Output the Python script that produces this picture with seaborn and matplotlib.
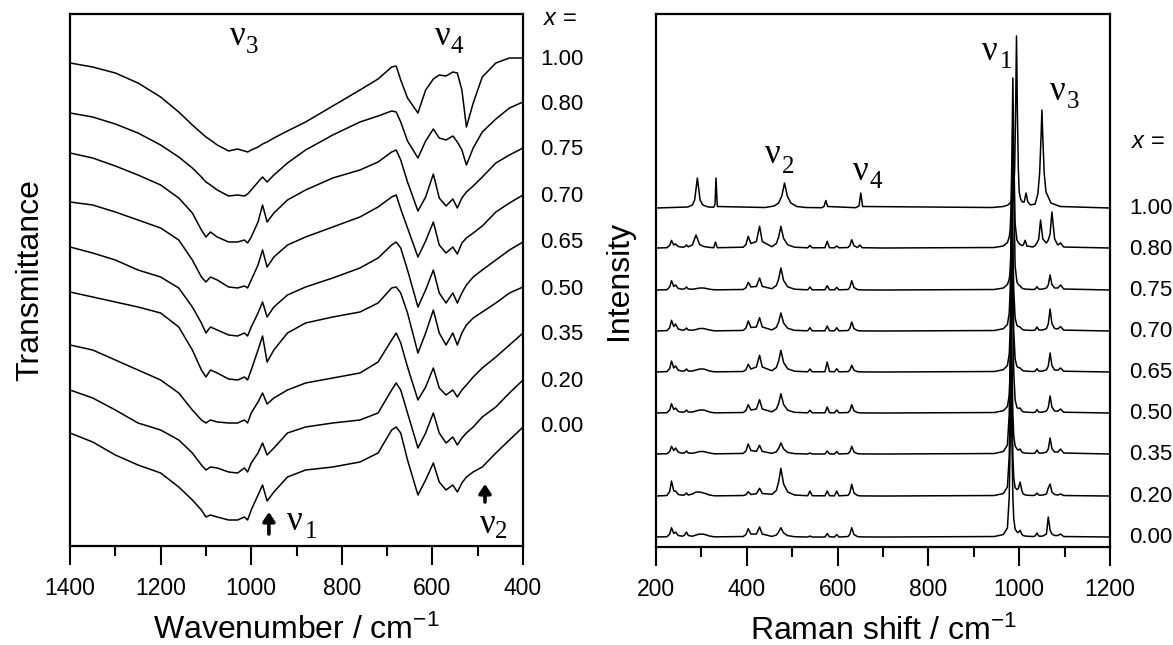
import numpy as np
import pandas as pd
import matplotlib
matplotlib.use("Agg")
import matplotlib.pyplot as plt
from matplotlib.ticker import MultipleLocator
import seaborn as sns

compositions = ["1.00", "0.80", "0.75", "0.70", "0.65", "0.50", "0.35", "0.20", "0.00"]

# FTIR transmittance (arb. units, offsets included)
ir_wavenumber = [1400, 1350, 1300, 1250, 1200, 1160, 1130, 1110, 1100, 1090,
                 1075, 1050, 1030, 1015, 1008, 1000, 985, 975, 965, 950,
                 920, 880, 820, 760, 720, 690, 680, 670, 655, 632,
                 615, 598, 585, 570, 555, 545, 535, 525, 510, 490,
                 460, 430, 400]
ir_100 = [483, 479, 473, 463, 449, 434, 421, 413, 409, 406, 401, 395, 397, 395, 394,
          396, 399, 402, 404, 408, 415, 424, 440, 456, 467, 479, 480, 466, 448, 433,
          456, 467, 471, 470, 474, 473, 456, 419, 443, 469, 483, 488, 488]
ir_080 = [433, 429, 422, 413, 401, 389, 378, 369, 364, 361, 356, 350, 351, 350, 352,
          356, 364, 369, 364, 371, 383, 396, 411, 424, 430, 435, 434, 424, 405, 388,
          405, 417, 408, 406, 410, 404, 396, 381, 398, 414, 427, 438, 444]
ir_075 = [393, 388, 380, 371, 361, 348, 333, 316, 309, 314, 309, 304, 304, 306, 303,
          309, 324, 341, 324, 333, 346, 356, 368, 376, 384, 394, 396, 386, 364, 335,
          349, 372, 348, 340, 347, 338, 348, 354, 360, 369, 383, 391, 398]
ir_070 = [344, 341, 334, 326, 318, 306, 286, 269, 264, 269, 266, 259, 258, 260, 258,
          266, 281, 296, 279, 289, 301, 309, 319, 329, 339, 349, 351, 337, 318, 289,
          305, 324, 301, 293, 299, 292, 303, 308, 313, 320, 334, 343, 351]
ir_065 = [299, 293, 286, 276, 269, 258, 239, 223, 213, 219, 216, 211, 210, 213, 210,
          219, 233, 244, 229, 239, 251, 259, 268, 278, 288, 301, 304, 298, 276, 239,
          256, 276, 253, 243, 253, 243, 253, 261, 269, 276, 286, 296, 304]
ir_050 = [254, 249, 244, 239, 233, 219, 196, 176, 169, 176, 173, 167, 166, 169, 166,
          176, 196, 210, 184, 196, 213, 223, 229, 234, 243, 258, 259, 253, 233, 193,
          213, 236, 213, 201, 213, 201, 213, 221, 228, 234, 243, 253, 259]
ir_035 = [201, 196, 186, 176, 166, 153, 136, 126, 123, 126, 124, 123, 123, 126, 123,
          133, 144, 153, 142, 148, 156, 163, 168, 173, 184, 206, 213, 203, 179, 146,
          159, 178, 158, 151, 156, 149, 156, 161, 169, 178, 189, 201, 213]
ir_020 = [156, 148, 136, 123, 116, 106, 93, 81, 76, 79, 78, 74, 73, 78, 74,
          83, 93, 103, 91, 98, 113, 119, 123, 126, 133, 156, 163, 156, 133, 98,
          113, 133, 113, 103, 109, 101, 108, 113, 119, 129, 139, 153, 166]
ir_000 = [113, 104, 91, 81, 73, 59, 46, 36, 29, 31, 29, 26, 26, 29, 26,
          36, 51, 61, 45, 54, 69, 76, 79, 84, 93, 116, 119, 113, 86, 51,
          66, 83, 64, 56, 61, 54, 63, 69, 74, 79, 93, 106, 119]
ir_curves = [ir_100, ir_080, ir_075, ir_070, ir_065, ir_050, ir_035, ir_020, ir_000]

# Raman, intensity above each trace's own baseline (arb. units)
raman_shift = [200, 224, 230, 234, 239, 243, 249, 258, 263, 267,
               271, 280, 288, 296, 305, 318, 327, 331, 335, 392,
               398, 403, 409, 421, 428, 434, 455, 465, 470, 475,
               481, 490, 505, 534, 539, 544, 572, 577, 582, 593,
               598, 603, 623, 627, 631, 636, 644, 649, 654, 700,
               945, 965, 974, 978, 980, 982, 984, 986, 988, 991,
               995, 998, 1002, 1006, 1009, 1013, 1017, 1030, 1035, 1039,
               1043, 1047, 1052, 1060, 1064, 1068, 1072, 1078, 1085, 1091,
               1098, 1200]
raman_000 = [0, 0.3, 3, 9.3, 3.5, 5, 1.5, 0.8, 2, 5,
             1.5, 0.8, 2, 3, 2.8, 1, 0.3, 0.2, 0.2, 0.5,
             2.5, 8.3, 3, 3, 10, 3, 0.6, 2, 5, 9.3,
             4, 1.4, 0.3, 0, 1, 0, 0, 3.5, 0.3, 0,
             2.5, 0, 0.5, 3, 9.3, 2.5, 0.4, 0.2, 0.1, 0,
             0.5, 2.5, 9, 40, 95, 170, 95, 40, 18, 8,
             5, 4.5, 6.7, 2.5, 1.5, 1, 0.8, 0.5, 1, 4,
             1, 0.8, 1, 3, 20, 7, 3, 1.5, 1.5, 3,
             0.5, 0]
raman_020 = [0, 0.5, 4.5, 15, 5, 5, 1.5, 0.8, 1.2, 3,
             1, 2, 4, 4, 3, 1, 0.3, 0.2, 0.2, 0.5,
             1.3, 4.3, 1.5, 2.3, 7.7, 2.5, 1.7, 5.5, 14, 27.7,
             12, 4, 1, 0.3, 5, 0.3, 0.2, 5, 0.3, 0.2,
             5, 0.2, 0.7, 3.5, 11.7, 3, 0.5, 0.2, 0.1, 0,
             0.5, 2.5, 9, 40, 95, 170, 95, 40, 18, 8.5,
             6.5, 7.5, 14, 5, 2, 1.2, 0.8, 0.5, 0.8, 3,
             1, 0.8, 1, 2, 8, 12, 4, 1.5, 1, 2,
             0.5, 0]
raman_035 = [0, 0.3, 2.5, 7.7, 3.5, 6, 1.8, 0.8, 1.2, 3,
             1, 0.8, 1.5, 2.5, 2.5, 1, 0.3, 0.2, 0.2, 0.6,
             3, 10, 3.5, 2.6, 8.7, 2.6, 0.7, 2.2, 5.5, 11,
             5, 1.6, 0.4, 0, 1, 0, 0, 3, 0.2, 0,
             2.5, 0, 0.4, 2.3, 7.7, 2, 0.3, 0.2, 0.1, 0,
             0.5, 2.5, 9, 40, 95, 170, 95, 40, 18, 8,
             5, 4, 5, 2, 1.2, 1, 0.8, 0.6, 1, 4,
             1.2, 0.8, 1, 2, 5, 16, 5.5, 2, 2, 5,
             1, 0]
raman_050 = [0, 0.3, 3, 9.3, 3.5, 5, 1.5, 0.8, 1.2, 3,
             1, 1, 2, 3, 3, 1, 0.3, 0.2, 0.2, 0.5,
             2.5, 8.3, 3, 4, 13.3, 4, 1.2, 4, 9.5, 19.3,
             8.5, 2.8, 0.7, 0.2, 2.7, 0.2, 0.2, 6, 0.3, 0.2,
             3, 0.2, 0.5, 2.5, 8.3, 2.2, 0.4, 0.2, 0.1, 0,
             0.5, 2.3, 6.5, 18, 40, 95, 170, 95, 40, 13,
             5.5, 4.5, 5, 2, 1.2, 1, 0.8, 0.5, 0.8, 3.3,
             1, 0.8, 1, 2, 5.5, 17, 6, 2, 1.8, 4,
             0.8, 0]
raman_065 = [0, 0.4, 3.5, 11, 4, 6, 1.8, 0.8, 1.2, 3,
             1, 1, 2, 3, 3, 1, 0.3, 0.2, 0.2, 0.5,
             2.3, 7.7, 3, 5, 16.7, 5, 1.3, 4.5, 11, 21.7,
             9.5, 3.2, 0.8, 0.2, 3, 0.2, 0.3, 10, 0.5, 0.2,
             3.3, 0.2, 0.4, 2, 6.7, 1.8, 0.3, 0.2, 0.1, 0,
             0.5, 2.3, 6.5, 18, 40, 95, 170, 95, 40, 13,
             5.5, 4.5, 4, 2, 1.2, 1, 0.8, 0.5, 0.8, 3.3,
             1, 0.8, 1, 2.2, 6, 19, 6.5, 2, 1.8, 4,
             0.8, 0]
raman_070 = [0, 0.4, 3.3, 10.7, 4.5, 7, 2, 0.8, 1.2, 3,
             1, 0.8, 1.5, 2.5, 2.5, 1, 0.3, 0.2, 0.2, 0.6,
             3, 10, 3.5, 4, 13.3, 4, 1.1, 3.6, 9, 18,
             8, 2.7, 0.7, 0.2, 3.3, 0.2, 0.2, 5, 0.3, 0.2,
             3.3, 0.2, 0.5, 2.7, 9, 2.4, 0.4, 0.2, 0.1, 0,
             0.5, 2.3, 6.5, 18, 40, 95, 170, 95, 40, 13,
             5.5, 4.5, 4, 2, 1.2, 1, 0.8, 0.6, 1, 4,
             1.2, 0.9, 1.1, 2.4, 7, 22, 7.5, 2.5, 2, 4.4,
             0.9, 0]
raman_075 = [0, 0.3, 3, 9.3, 3.5, 5, 1.5, 0.8, 1.2, 3,
             1, 0.8, 1.3, 2, 2, 0.8, 0.3, 0.2, 0.2, 0.5,
             2.3, 7.7, 3, 3.6, 12, 3.6, 1.3, 4.5, 11, 22,
             9.5, 3.2, 0.8, 0.2, 3, 0.2, 0.2, 4.3, 0.3, 0.2,
             2.7, 0.2, 0.5, 2.8, 9.3, 2.5, 0.4, 0.2, 0.1, 0,
             0.5, 2, 5.5, 11, 18, 40, 95, 170, 95, 24,
             8, 5.5, 4, 2, 1.2, 1, 0.8, 0.5, 0.8, 3.3,
             1, 0.8, 1, 2, 5, 15, 5.5, 2, 2, 5,
             1, 0]
raman_080 = [0, 0.3, 2.5, 7.6, 3, 4, 1.5, 0.8, 1.2, 3,
             1.2, 3, 13, 3.5, 1.5, 0.6, 0.3, 6, 0.3, 0.8,
             3.5, 11.7, 4.5, 6.5, 21.7, 6.5, 1.3, 4.5, 11, 21.7,
             9.5, 3.2, 0.8, 0.2, 2.5, 0.2, 0.3, 6.7, 0.3, 0.2,
             2, 0.2, 0.5, 2.5, 8.3, 2.2, 0.5, 3, 0.3, 0,
             0.5, 2, 5.5, 11, 18, 40, 95, 170, 95, 24,
             8, 5.5, 3.5, 2.5, 3, 7.7, 2, 1, 2.5, 5,
             9, 28, 9, 5, 8, 14, 36, 9, 3, 5,
             1, 0]
# the x = 1.00 sample has its own band positions
raman_shift_100 = [200, 270, 280, 285, 291, 297, 303, 315, 327, 330,
                   332, 335, 440, 460, 470, 477, 483, 489, 497, 510,
                   530, 565, 570, 574, 578, 640, 647, 651, 655, 940,
                   965, 975, 982, 986, 988, 990, 992, 994, 996, 998,
                   1000, 1003, 1007, 1011, 1015, 1019, 1025, 1035, 1041, 1045,
                   1048, 1050, 1052, 1055, 1059, 1070, 1090, 1200]
raman_100 = [0, 1, 3, 8, 30, 8, 3, 1, 0.8, 4,
             30, 1.5, 0.5, 2, 5, 12, 25, 12, 5, 1.5,
             0.5, 0.3, 1.5, 7.5, 1.5, 0.3, 2, 15, 1.5, 0.5,
             1.5, 3, 6, 10, 18, 40, 95, 172, 95, 40,
             16, 9, 6, 6, 15, 6, 3, 4, 14, 35,
             70, 98, 70, 35, 16, 5, 1.5, 0]
raman_offsets = [339, 299, 257, 216, 175, 134, 93, 51, 10]

raman_xs = [raman_shift_100] + [raman_shift] * 8
raman_ys = [raman_100, raman_080, raman_075, raman_070, raman_065,
            raman_050, raman_035, raman_020, raman_000]

ir_frames = []
for comp, vals in zip(compositions, ir_curves):
    ir_frames.append(pd.DataFrame({"wavenumber": ir_wavenumber,
                                   "transmittance": vals, "x": comp}))
df_ir = pd.concat(ir_frames, ignore_index=True)

raman_frames = []
for comp, xs, ys, off in zip(compositions, raman_xs, raman_ys, raman_offsets):
    raman_frames.append(pd.DataFrame({"shift": xs,
                                      "intensity": np.array(ys) + off, "x": comp}))
df_raman = pd.concat(raman_frames, ignore_index=True)

sns.set_theme(style="white")
plt.rcParams["font.family"] = ["Liberation Sans", "DejaVu Sans"]
plt.rcParams["mathtext.fontset"] = "custom"
plt.rcParams["mathtext.rm"] = "Liberation Sans"
plt.rcParams["mathtext.it"] = "Liberation Sans:italic"
plt.rcParams["text.color"] = "black"
plt.rcParams["axes.labelcolor"] = "black"
plt.rcParams["xtick.color"] = "black"

fig = plt.figure(figsize=(11.73, 6.45), dpi=100)
ax_ir = fig.add_axes([0.0597, 0.1535, 0.3862, 0.8248])
ax_ra = fig.add_axes([0.5593, 0.1519, 0.3870, 0.8264])

sns.lineplot(data=df_ir, x="wavenumber", y="transmittance", units="x",
             estimator=None, color="black", linewidth=1.1, ax=ax_ir, legend=False)
sns.lineplot(data=df_raman, x="shift", y="intensity", units="x",
             estimator=None, color="black", linewidth=1.1, ax=ax_ra, legend=False)

ax_ir.set_xlim(1400, 400)
ax_ir.set_ylim(0, 532)
ax_ra.set_xlim(200, 1200)
ax_ra.set_ylim(0, 533)

for ax in (ax_ir, ax_ra):
    ax.set_yticks([])
    ax.xaxis.set_major_locator(MultipleLocator(200))
    ax.xaxis.set_minor_locator(MultipleLocator(100))
    ax.tick_params(axis="x", which="major", bottom=True, direction="out",
                   length=14, width=1.5, labelsize=16.5, pad=8)
    ax.tick_params(axis="x", which="minor", bottom=True, direction="out",
                   length=7, width=1.5)
    for s in ax.spines.values():
        s.set_linewidth(1.6)
        s.set_color("black")

ax_ir.set_xlabel("Wavenumber / cm$^{-1}$", fontsize=23, labelpad=11)
ax_ir.set_ylabel("Transmittance", fontsize=23, labelpad=18)
ax_ra.set_xlabel("Raman shift / cm$^{-1}$", fontsize=23, labelpad=11)
ax_ra.set_ylabel("Intensity", fontsize=23, labelpad=16)

# composition labels at the right of each panel
ir_label_y = [486, 441, 396, 349, 303, 256, 211, 164, 119]
for comp, y in zip(compositions, ir_label_y):
    ax_ir.text(362, y, comp, fontsize=16, ha="left", va="center")
ax_ir.text(356, 521, "$x$ =", fontsize=17, ha="left", va="baseline")

ra_label_y = [339, 298, 257, 216, 175, 134, 93, 51, 10]
for comp, y in zip(compositions, ra_label_y):
    ax_ra.text(1242, y, comp, fontsize=16, ha="left", va="center")
ax_ra.text(1246, 399, "$x$ =", fontsize=17, ha="left", va="baseline")


def nu_label(ax, x, y, sub, xs, ys):
    ax.text(x, y, "ν", family="Liberation Serif", fontsize=25, va="baseline")
    ax.text(xs, ys, sub, family="Liberation Serif", fontsize=18, va="baseline")


nu_label(ax_ir, 1047, 501, "3", 1012, 493)
nu_label(ax_ir, 595, 501, "4", 560, 493)
nu_label(ax_ir, 921, 16, "1", 882, 8)
nu_label(ax_ir, 495, 13, "2", 462, 8)
nu_label(ax_ra, 918, 487, "1", 958, 479)
nu_label(ax_ra, 1068, 447, "3", 1105, 439)
nu_label(ax_ra, 440, 384, "2", 477, 374)
nu_label(ax_ra, 634, 367, "4", 671, 359)

arrow = dict(arrowstyle="-|>,head_width=0.3,head_length=0.45", color="black",
             lw=2.6, shrinkA=0, shrinkB=0)
ax_ir.annotate("", xy=(961, 34), xytext=(961, 12), arrowprops=arrow)
ax_ir.annotate("", xy=(484, 62), xytext=(484, 44), arrowprops=arrow)

fig.savefig("out.png", dpi=100)
